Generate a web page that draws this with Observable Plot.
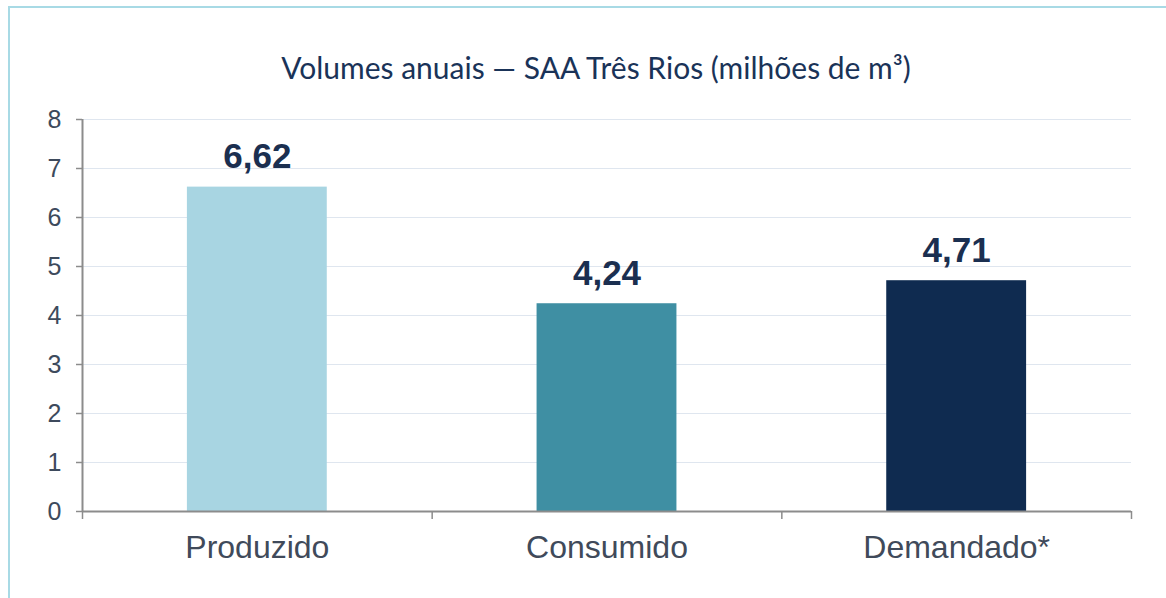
<!DOCTYPE html>
<html><head><meta charset="utf-8">
<script src="https://cdn.jsdelivr.net/npm/d3@7"></script>
<script src="https://cdn.jsdelivr.net/npm/@observablehq/plot@0.6"></script>
<style>
html,body{margin:0;padding:0;background:#fff;}
#wrap{position:relative;width:1166px;height:598px;overflow:hidden;}
#frame{position:absolute;left:8px;top:6px;width:1170px;height:620px;border:2px solid #a8dae5;box-sizing:border-box;}
#title{position:absolute;left:0;width:1192px;top:49px;text-align:center;font-family:Lato,"Open Sans",sans-serif;font-size:30px;color:#1a3358;}
#chart{position:absolute;left:0;top:0;}
</style></head>
<body><div id="wrap"><div id="frame"></div><div id="title">Volumes anuais — SAA Três Rios (milhões de m³)</div><div id="chart"></div></div>
<script>
const categories = ["Produzido", "Consumido", "Demandado*"];
const values = [6.62, 4.24, 4.71];
const colors = ["#a8d5e2", "#3f8fa3", "#0f2b50"];
const yTicks = [0, 1, 2, 3, 4, 5, 6, 7, 8];

const data = categories.map((c, i) => ({cat: c, i, v: values[i], color: colors[i]}));
const fmt = v => v.toFixed(2).replace(".", ",");

const chart = Plot.plot({
  width: 1166, height: 598,
  marginLeft: 82, marginRight: 35, marginTop: 119, marginBottom: 87,
  style: {fontFamily: "Liberation Sans, Arial, sans-serif", background: "transparent"},
  x: {type: "linear", domain: [0, categories.length], axis: null},
  y: {domain: [0, 8], axis: null},
  marks: [
    Plot.ruleY(yTicks.filter(t => t > 0), {stroke: "#dfe6ef", strokeWidth: 1}),
    Plot.rectY(data, {x1: d => d.i + 0.3, x2: d => d.i + 0.7, y1: 0, y2: "v", fill: "color"}),
    Plot.axisY(yTicks, {label: null, tickSize: 6, tickPadding: 15, fontSize: 25, color: "#3d4a5c", stroke: "#8c8c8c", strokeWidth: 1.5, tickFormat: d => String(d)}),
    Plot.axisX(d3.range(categories.length + 1), {label: null, tickSize: 8, tickFormat: () => "", stroke: "#8c8c8c", strokeWidth: 1.5}),
    Plot.ruleX([0], {y1: 0, y2: 8, stroke: "#8c8c8c", strokeWidth: 2}),
    Plot.ruleY([0], {stroke: "#8c8c8c", strokeWidth: 2}),
    Plot.text(data, {x: d => d.i + 0.5, y: "v", text: d => fmt(d.v), lineAnchor: "bottom", dy: -19, fontSize: 35, fontWeight: "bold", fill: "#1b2f50"}),
    Plot.text(data, {x: d => d.i + 0.5, text: "cat", frameAnchor: "bottom", dy: 46, fontSize: 32, fill: "#404a5a"})
  ]
});
document.getElementById("chart").appendChild(chart);
</script></body></html>
